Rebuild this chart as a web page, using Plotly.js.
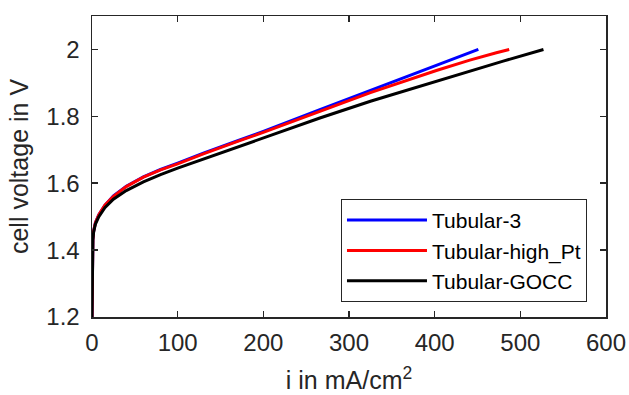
<!DOCTYPE html>
<html>
<head>
<meta charset="utf-8">
<script src="https://cdn.plot.ly/plotly-3.0.1.min.js"></script>
<style>html,body{margin:0;padding:0;background:#fff;}#chart{width:629px;height:395px;}</style>
</head>
<body>
<div id="chart"></div>
<script>
// Tubular-3 (blue)
const iBlue = [0,0.2,0.5,1,2,4,8,15,25,40,60,80,100,130,170,200,266,325,364,402,441,451];
const vBlue = [1.2,1.33,1.40,1.432,1.458,1.482,1.506,1.534,1.562,1.591,1.619,1.641,1.66,1.69,1.727,1.755,1.82,1.877,1.915,1.952,1.989,2.0];
// Tubular-high_Pt (red)
const iRed = [0,0.2,0.5,1,2,4,8,15,25,40,60,80,100,130,170,200,266,325,402,441,472,487];
const vRed = [1.2,1.33,1.40,1.432,1.458,1.482,1.506,1.534,1.561,1.59,1.618,1.64,1.658,1.688,1.725,1.752,1.815,1.871,1.937,1.968,1.99,2.0];
// Tubular-GOCC (black)
const iBlack = [0,0.2,0.5,1,2,4,8,15,25,40,60,80,100,130,170,200,266,325,402,480,527];
const vBlack = [1.2,1.33,1.40,1.43,1.455,1.478,1.50,1.527,1.552,1.578,1.604,1.626,1.645,1.672,1.708,1.735,1.795,1.845,1.905,1.965,2.0];

const names = ['Tubular-3','Tubular-high_Pt','Tubular-GOCC'];
const colors = ['#0000ff','#ff0000','#000000'];
const xs = [iBlue, iRed, iBlack];
const ys = [vBlue, vRed, vBlack];

const FONT = 'Liberation Sans, Arial, sans-serif';

const traces = names.map((n,k)=>({
  x: xs[k], y: ys[k], name: n, type: 'scatter', mode: 'lines',
  line: {color: colors[k], width: 3}
}));

const axisCommon = {
  showline: true, linecolor: '#262626', linewidth: 1.5, mirror: 'ticks',
  ticks: 'inside', ticklen: 6, tickwidth: 1.5, tickcolor: '#262626',
  showgrid: false, zeroline: false,
  tickfont: {family: FONT, size: 24, color: '#262626'}
};

const layout = {
  width: 629, height: 395,
  margin: {l: 92, r: 23, t: 16, b: 78},
  paper_bgcolor: '#ffffff', plot_bgcolor: '#ffffff',
  showlegend: true,
  xaxis: Object.assign({}, axisCommon, {
    range: [0, 600], tickvals: [0,100,200,300,400,500,600],
    ticklabelstandoff: 4,
    title: {text: 'i in mA/cm<sup>2</sup>', font: {family: FONT, size: 25, color: '#262626'}, standoff: 16}
  }),
  yaxis: Object.assign({}, axisCommon, {
    range: [1.2, 2.1], tickvals: [1.2,1.4,1.6,1.8,2.0], ticktext: ['1.2','1.4','1.6','1.8','2'],
    ticklabelstandoff: 6,
    title: {text: 'cell voltage in V', font: {family: FONT, size: 25, color: '#262626'}, standoff: 10}
  }),
  legend: {
    x: 0.963, y: 0.05, xanchor: 'right', yanchor: 'bottom',
    bgcolor: '#ffffff', bordercolor: '#262626', borderwidth: 1,
    itemwidth: 80, tracegroupgap: 0,
    font: {family: FONT, size: 21, color: '#000000'}
  }
};

Plotly.newPlot('chart', traces, layout, {displayModeBar: false, staticPlot: true});
</script>
</body>
</html>
